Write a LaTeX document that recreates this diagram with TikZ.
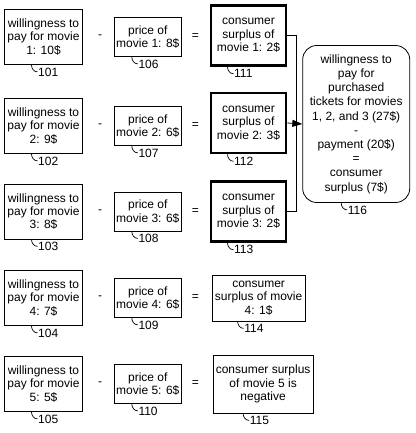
\documentclass[tikz,border=0pt]{standalone}
\usepackage{fontspec}
\setmainfont{Liberation Sans}
\usetikzlibrary{arrows.meta,positioning}
\tikzset{
  every node/.style = {font=\fontsize{12}{13.4}\selectfont},
  wbox/.style   = {draw, line width=0.8pt, minimum width=78pt, minimum height=55pt,
                   align=center, inner sep=1pt},
  pbox/.style   = {draw, line width=0.8pt, minimum width=67pt, minimum height=39pt,
                   align=center, inner sep=1pt},
  sbox/.style   = {draw, line width=2.6pt, minimum width=75pt, minimum height=60pt,
                   align=center, inner sep=1pt},
  cbox/.style   = {draw, line width=0.8pt, align=center, inner sep=1pt},
  tbox/.style   = {draw, line width=0.8pt, rounded corners=14pt, align=center,
                   minimum width=107pt, minimum height=157pt, inner sep=1pt,
                   font=\fontsize{12}{14.2}\selectfont},
  opsign/.style = {inner sep=0pt},
  numlbl/.style = {inner sep=0.5pt, anchor=west},
  leader/.style = {line width=0.7pt},
  flow/.style   = {-{Triangle[length=10pt,width=7pt]}, line width=0.8pt},
}
\begin{document}
\begin{tikzpicture}[x=1pt, y=-1pt]
\useasboundingbox (0,0) rectangle (415,433);

% ---------------- willingness to pay ----------------------------------
\node[wbox] (w1) at (43.5,37)    {willingness to\\pay for movie\\1: 10\$};
\node[wbox] (w2) at (43.5,126)   {willingness to\\pay for movie\\2: 9\$};
\node[wbox] (w3) at (43.5,211.5) {willingness to\\pay for movie\\3: 8\$};
\node[wbox] (w4) at (43.5,298)   {willingness to\\pay for movie\\4: 7\$};
\node[wbox] (w5) at (43.5,384)   {willingness to\\pay for movie\\5: 5\$};

% ---------------- prices ----------------------------------------------
\foreach \i/\v in {1/8, 2/6, 3/6, 4/6, 5/6} {
  \node[pbox, right=31pt of w\i] (p\i) {price of\\movie \i: \v\$};
  \node[opsign, right=15pt of w\i] (m\i) {-};
  \node[opsign, right=10pt of p\i] (e\i) {=};
}

% ---------------- surpluses -------------------------------------------
\node[sbox, right=28pt of p1, yshift=1.5pt] (s1) {consumer\\surplus of\\movie 1: 2\$};
\node[sbox, right=28pt of p2, yshift=3pt]   (s2) {consumer\\surplus of\\movie 2: 3\$};
\node[sbox, right=28pt of p3]               (s3) {consumer\\surplus of\\movie 3: 2\$};
\node[cbox, right=30pt of p4, minimum width=93pt, minimum height=46pt] (s4)
  {consumer\\surplus of movie\\4: 1\$};
\node[cbox, right=31pt of p5, minimum width=100pt, minimum height=58pt] (s5)
  {consumer surplus\\of movie 5 is\\negative};

% ---------------- total -----------------------------------------------
\node[tbox, right=15pt of s2, yshift=-1pt] (t)
  {willingness to\\pay for\\purchased\\tickets for movies\\1, 2, and 3 (27\$)\\-\\
   payment (20\$)\\=\\consumer\\surplus (7\$)};

\draw[leader] (s1.east) -- ++(9pt,0) |- (s3.east);
\draw[flow] (s2.east) -- (t.west);

% ---------------- reference numerals ----------------------------------
\foreach \b/\n/\d in {w1/101/-12, w2/102/-12, w3/103/-12, w4/104/-12, w5/105/-12,
                      p1/106/-16, p2/107/-16, p3/108/-16, p4/109/-16, p5/110/-16,
                      s1/111/-21, s2/112/-21, s3/113/-21, s4/114/-21, s5/115/-20,
                      t/116/-15} {
  \node[numlbl] (l\n) at ([xshift={\d*1pt+6pt}, yshift=-7pt]\b.south) {\n};
  \draw[leader] ([xshift={\d*1pt}]\b.south) to[out=-90, in=180] (l\n.west);
}

\end{tikzpicture}
\end{document}
